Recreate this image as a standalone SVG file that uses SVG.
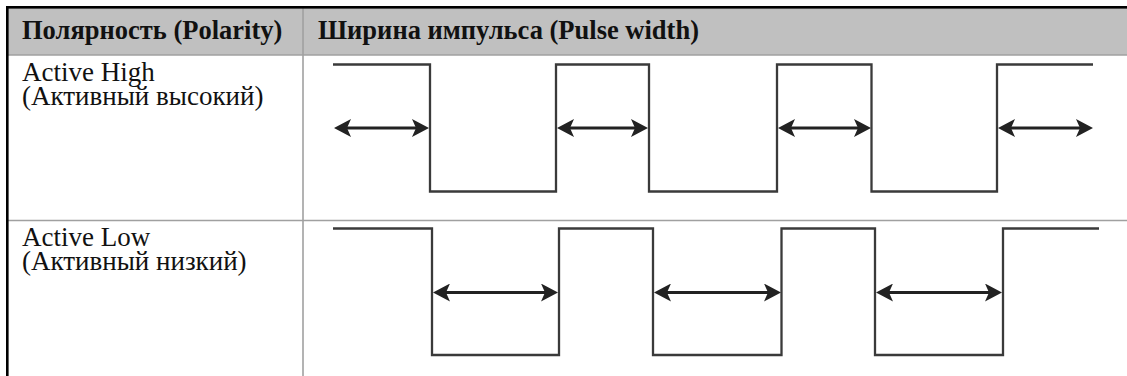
<svg xmlns="http://www.w3.org/2000/svg" width="1127" height="376" viewBox="0 0 1127 376">
  <style>
    .hdr { font-family: "Liberation Serif", "Times New Roman", serif; font-weight: bold; font-size: 26.5px; fill: #111; }
    .lbl { font-family: "Liberation Serif", "Times New Roman", serif; font-size: 27px; fill: #111; }
    .grid { stroke: #a0a0a0; stroke-width: 1.6; fill: none; }
    .wave { stroke: #3a3a3a; stroke-width: 2.3; fill: none; stroke-linejoin: miter; }
    .arrow { stroke: #222; stroke-width: 3; fill: none; marker-start: url(#head); marker-end: url(#head); }
  </style>
  <defs>
    <marker id="head" viewBox="0 0 17 18" refX="7" refY="9" markerWidth="17" markerHeight="18" markerUnits="userSpaceOnUse" orient="auto-start-reverse">
      <path d="M17,9 L0,0 L4,9 L0,18 Z" fill="#222"/>
    </marker>
  </defs>
  <rect x="0" y="0" width="1127" height="376" fill="#ffffff"/>

  <g id="table">
    <rect x="8" y="8" width="1119" height="47" fill="#c0c0c0"/>
    <line class="grid" x1="8" y1="55" x2="1127" y2="55"/>
    <line class="grid" x1="8" y1="220.5" x2="1127" y2="220.5"/>
    <line class="grid" x1="303" y1="8" x2="303" y2="376"/>
    <rect x="6" y="6" width="1121" height="2.6" fill="#000"/>
    <rect x="6" y="6" width="2.6" height="370" fill="#000"/>
  </g>

  <g id="header-polarity">
    <text class="hdr" x="22" y="38.5">Полярность (Polarity)</text>
  </g>
  <g id="header-pulse-width">
    <text class="hdr" x="318" y="38.5">Ширина импульса (Pulse width)</text>
  </g>

  <g id="label-active-high">
    <text class="lbl" x="22" y="81">Active High</text>
    <text class="lbl" x="22" y="105">(Активный высокий)</text>
  </g>
  <g id="label-active-low">
    <text class="lbl" x="22" y="246">Active Low</text>
    <text class="lbl" x="22" y="270">(Активный низкий)</text>
  </g>

  <g id="wave-active-high">
    <polyline class="wave" points="333,64.5 430,64.5 430,191.5 556,191.5 556,64.5 649,64.5 649,191.5 777,191.5 777,64.5 871.5,64.5 871.5,191.5 997,191.5 997,64.5 1093,64.5"/>
  </g>
  <g id="wave-active-low">
    <polyline class="wave" points="333,228.5 432,228.5 432,355 559,355 559,228.5 653,228.5 653,355 781.5,355 781.5,228.5 875,228.5 875,355 1003,355 1003,228.5 1099,228.5"/>
  </g>

  <g id="connectors">
    <line class="arrow" x1="344" y1="128" x2="419" y2="128"/>
    <line class="arrow" x1="567" y1="128" x2="638" y2="128"/>
    <line class="arrow" x1="788" y1="128" x2="861" y2="128"/>
    <line class="arrow" x1="1008" y1="128" x2="1083" y2="128"/>
    <line class="arrow" x1="443" y1="292.5" x2="548" y2="292.5"/>
    <line class="arrow" x1="664" y1="292.5" x2="771" y2="292.5"/>
    <line class="arrow" x1="886" y1="292.5" x2="992" y2="292.5"/>
  </g>
</svg>
